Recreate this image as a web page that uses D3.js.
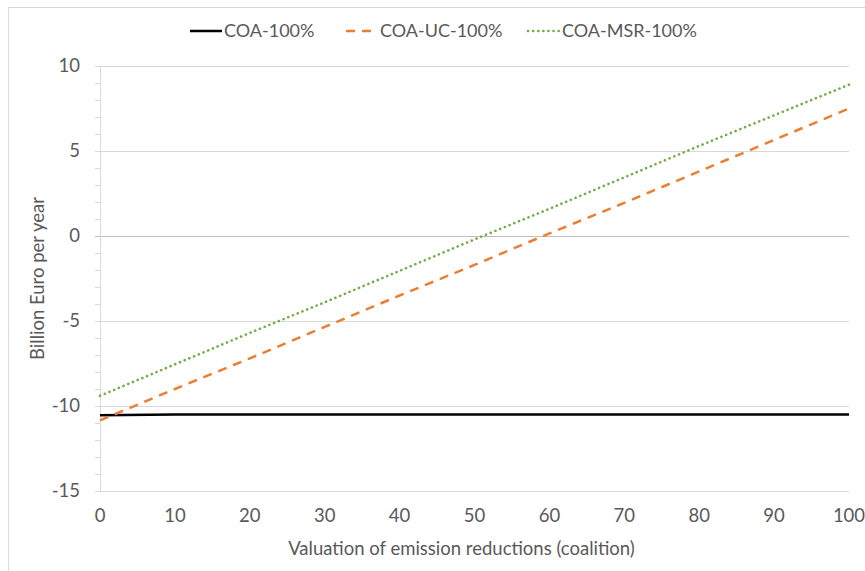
<!DOCTYPE html>
<html>
<head>
<meta charset="utf-8">
<script src="https://cdn.jsdelivr.net/npm/d3@7"></script>
<style>
  body { margin: 0; background: #fff; }
  text { font-family: Lato, "Open Sans", sans-serif; fill: #595959; }
</style>
</head>
<body>
<svg id="chart" width="865" height="571"></svg>
<script>
// values
var xValues = [0, 10, 20, 30, 40, 50, 60, 70, 80, 90, 100];
var coa = [-10.55, -10.5, -10.5, -10.5, -10.5, -10.5, -10.5, -10.5, -10.5, -10.5, -10.5];
var coaUC = [-10.85, -9.0, -7.2, -5.35, -3.5, -1.7, 0.15, 1.95, 3.8, 5.65, 7.5];
var coaMSR = [-9.4, -7.55, -5.7, -3.9, -2.05, -0.2, 1.6, 3.45, 5.3, 7.1, 8.9];
var seriesNames = ["COA-100%", "COA-UC-100%", "COA-MSR-100%"];
var xTicks = [0, 10, 20, 30, 40, 50, 60, 70, 80, 90, 100];
var yTicks = [-15, -10, -5, 0, 5, 10];

var svg = d3.select("#chart");
var margin = {l: 100, r: 16, t: 66, b: 80};
var width = 865 - margin.l - margin.r,
  height = 571 - margin.t - margin.b;

// outer chart border
svg.append("rect")
  .attr("x", 8.5).attr("y", 7.5)
  .attr("width", 870).attr("height", 580)
  .attr("fill", "none").attr("stroke", "#d9d9d9");

var x = d3.scaleLinear().domain([0, 100]).range([0, width]);
var y = d3.scaleLinear().domain([-15, 10]).range([height, 0]);

var plot = svg.append("g").attr("transform", "translate(" + margin.l + "," + margin.t + ")");

// gridlines + major ticks
plot.selectAll(".grid").data(yTicks).enter()
  .append("line")
  .attr("x1", -5).attr("x2", width)
  .attr("y1", function(d){ return y(d) + 0.5; })
  .attr("y2", function(d){ return y(d) + 0.5; })
  .attr("stroke", function(d){ return d == 0 ? "#bfbfbf" : "#d9d9d9"; })
  .attr("stroke-width", 1);

// minor ticks every 1
var minor = d3.range(-15, 10.01, 1).filter(function(d){ return d % 5 != 0; });
plot.selectAll(".minor").data(minor).enter()
  .append("line")
  .attr("x1", -5).attr("x2", 0)
  .attr("y1", function(d){ return y(d) + 0.5; })
  .attr("y2", function(d){ return y(d) + 0.5; })
  .attr("stroke", "#d9d9d9");

plot.append("line")
  .attr("x1", 0.5).attr("x2", 0.5)
  .attr("y1", 0).attr("y2", height)
  .attr("stroke", "#d9d9d9");

plot.selectAll(".ylab").data(yTicks).enter()
  .append("text")
  .attr("x", -20)
  .attr("y", function(d){ return y(d); })
  .attr("dy", "0.35em")
  .attr("text-anchor", "end")
  .style("font-size", "18.5px")
  .text(function(d){ return d; });

plot.selectAll(".xlab").data(xTicks).enter()
  .append("text")
  .attr("x", function(d){ return x(d); })
  .attr("y", height + 31)
  .attr("text-anchor", "middle")
  .style("font-size", "18.5px")
  .text(function(d){ return d; });

plot.append("text")
  .attr("x", width / 2 - 13)
  .attr("y", height + 64)
  .attr("text-anchor", "middle")
  .style("font-size", "18.5px")
  .text("Valuation of emission reductions (coalition)");

svg.append("text")
  .attr("transform", "translate(44," + (margin.t + y(-2.5)) + ") rotate(-90)")
  .attr("text-anchor", "middle")
  .style("font-size", "18.5px")
  .text("Billion Euro per year");

var styles = [
  {color: "#000000", width: 2.5, dash: null, cap: "butt"},
  {color: "#ed7d31", width: 2.5, dash: "9,7", cap: "butt"},
  {color: "#70ad47", width: 2.6, dash: "0.1,5", cap: "round"}
];
var allSeries = [coa, coaUC, coaMSR];

var line = d3.line()
  .x(function(d){ return x(d[0]); })
  .y(function(d){ return y(d[1]); });

allSeries.forEach(function(s, i){
  plot.append("path")
    .datum(xValues.map(function(v, j){ return [v, s[j]]; }))
    .attr("d", line)
    .attr("fill", "none")
    .attr("stroke", styles[i].color)
    .attr("stroke-width", styles[i].width)
    .attr("stroke-dasharray", styles[i].dash)
    .attr("stroke-linecap", styles[i].cap);
});

// legend
var legendX = [190, 346, 528];
var legend = svg.selectAll(".legend").data(seriesNames).enter()
  .append("g")
  .attr("transform", function(d, i){ return "translate(" + legendX[i] + ",31)"; });
legend.append("line")
  .attr("x1", 0).attr("x2", 32)
  .attr("stroke", function(d, i){ return styles[i].color; })
  .attr("stroke-width", function(d, i){ return styles[i].width; })
  .attr("stroke-dasharray", function(d, i){ return styles[i].dash; })
  .attr("stroke-linecap", function(d, i){ return styles[i].cap; });
legend.append("text")
  .attr("x", 34)
  .attr("dy", "0.35em")
  .style("font-size", "18px")
  .text(function(d){ return d; });
</script>
</body>
</html>
